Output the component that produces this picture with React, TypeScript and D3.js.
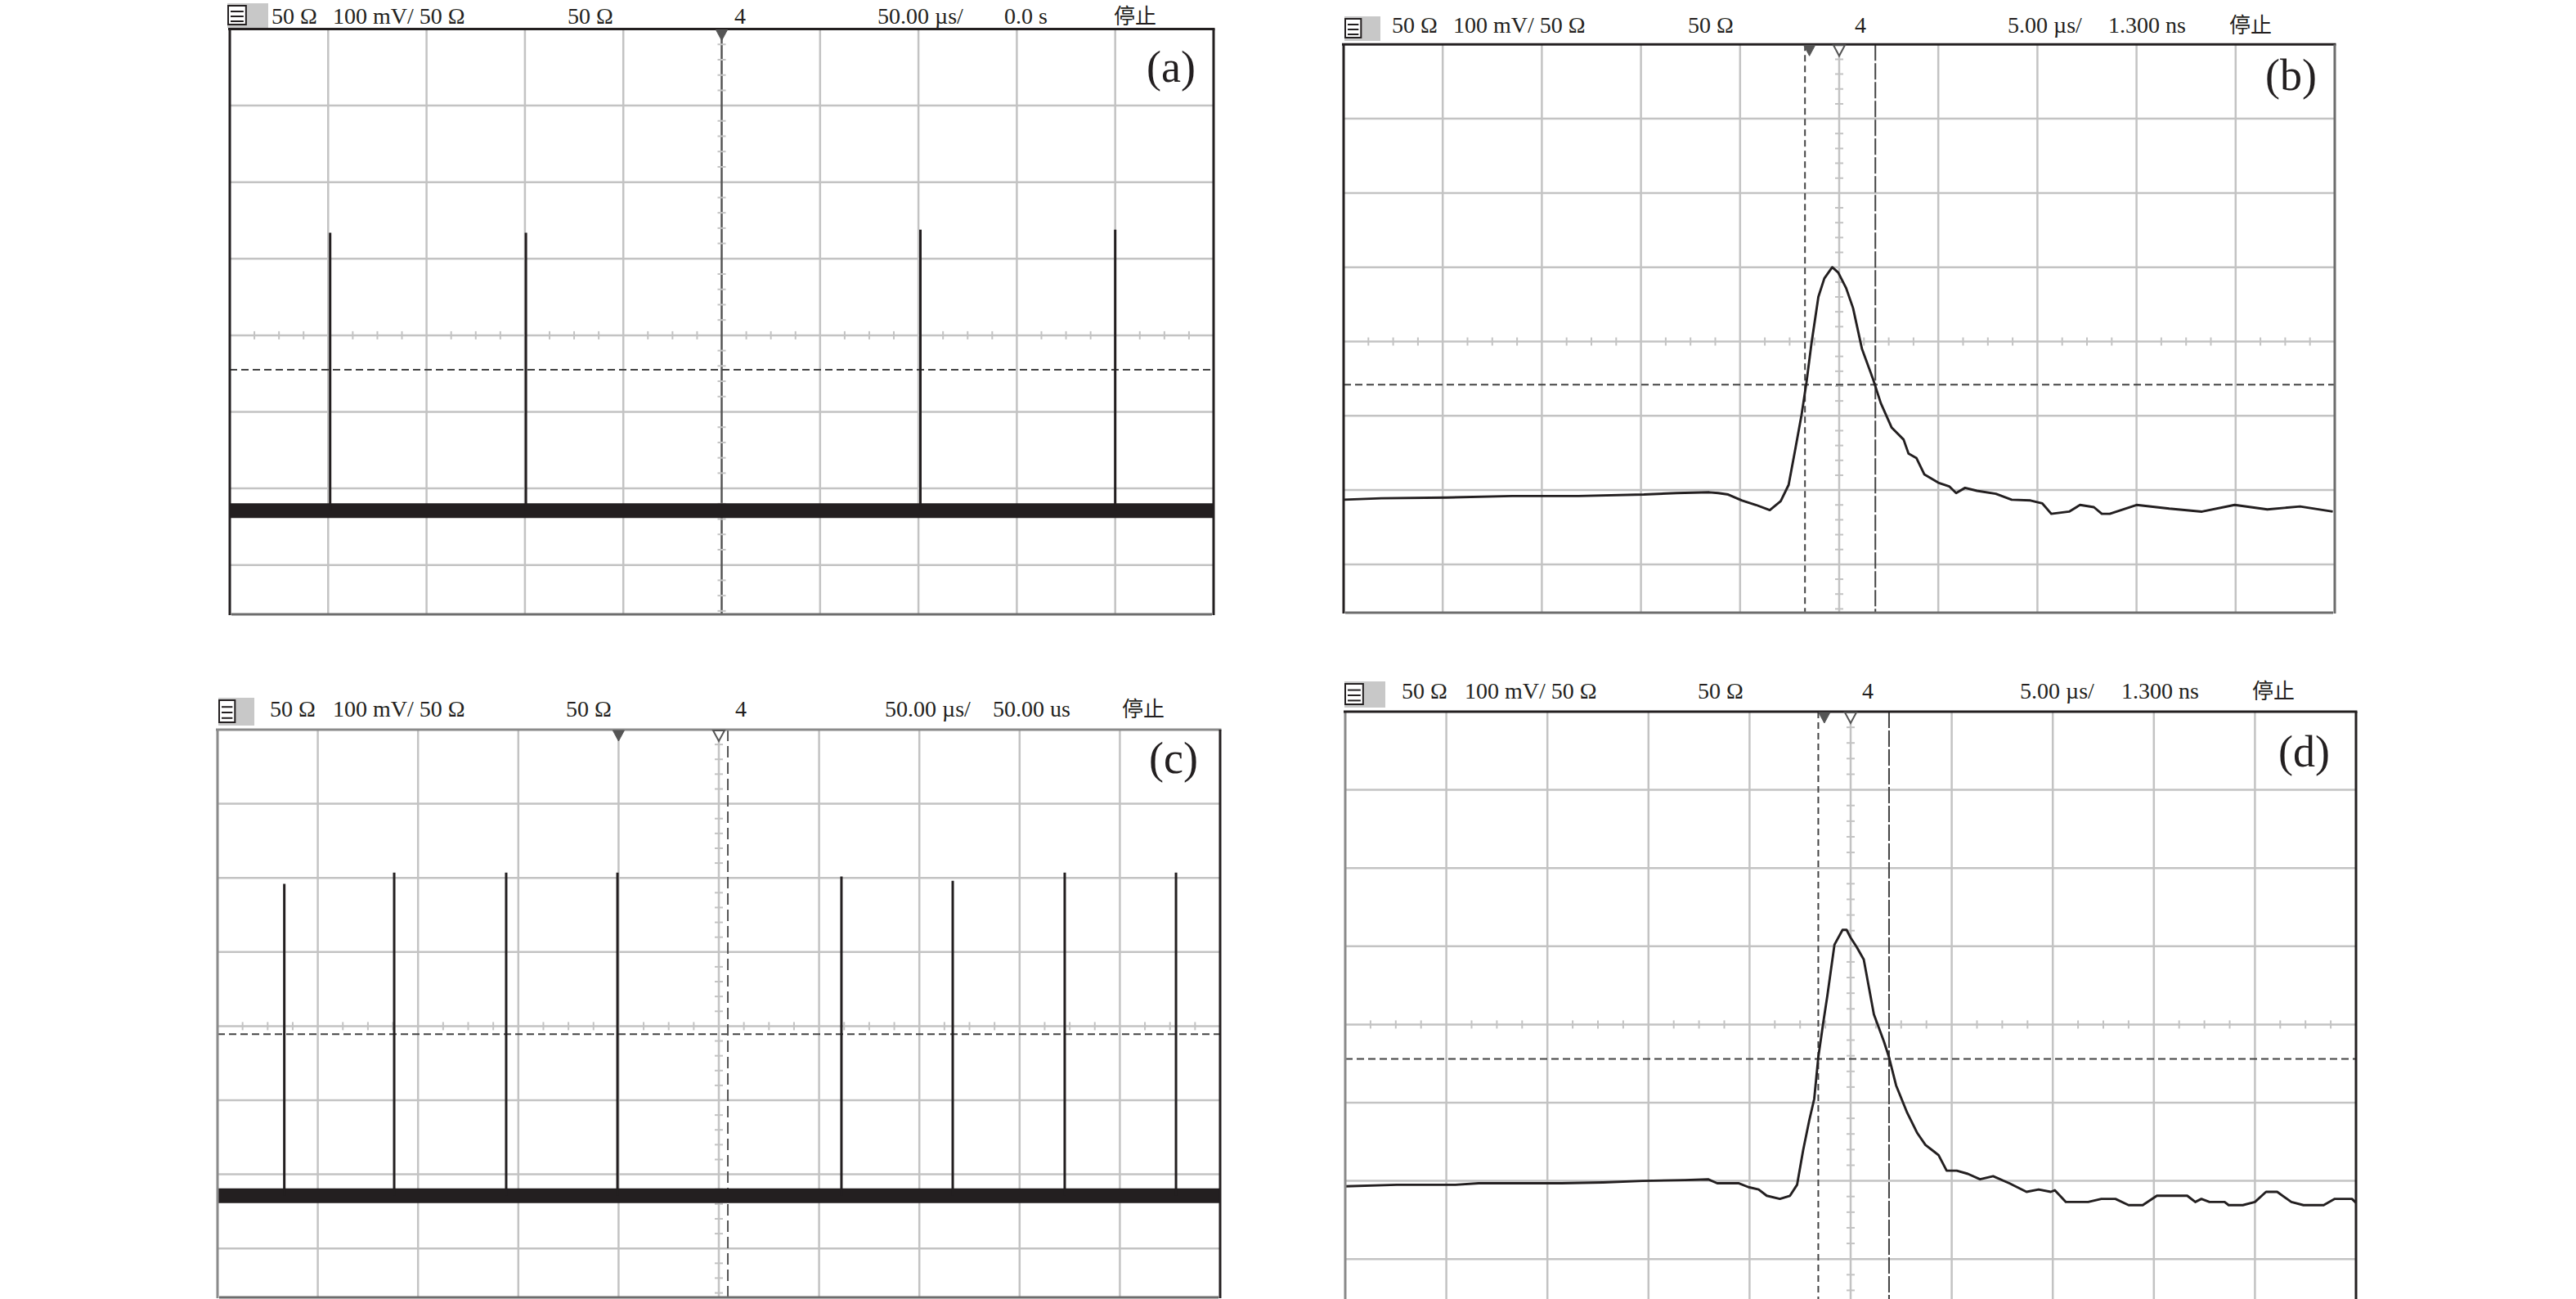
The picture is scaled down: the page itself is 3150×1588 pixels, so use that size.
import React from "react";
import * as d3 from "d3";

// ---------------- Data (oscilloscope units: time 0..10 div, voltage -4..+4 div) ----------------
const headerA = ["50 Ω", "100 mV/ 50 Ω", "50 Ω", "4", "50.00 µs/", "0.0 s", "停止"];
const headerB = ["50 Ω", "100 mV/ 50 Ω", "50 Ω", "4", "5.00 µs/", "1.300 ns", "停止"];
const headerC = ["50 Ω", "100 mV/ 50 Ω", "50 Ω", "4", "50.00 µs/", "50.00 us", "停止"];
const headerD = ["50 Ω", "100 mV/ 50 Ω", "50 Ω", "4", "5.00 µs/", "1.300 ns", "停止"];
const panelLabels = ["(a)", "(b)", "(c)", "(d)"];

// (a) pulse train, 50 µs/div
const spikeTimesA = [1.02, 3.01, 7.02, 9.0];
const spikePeaksA = [1.34, 1.34, 1.38, 1.38];
const baselineA = -2.29;
const levelA = -0.45;

// (c) pulse train, 50 µs/div
const spikeTimesC = [0.666, 1.762, 2.879, 3.989, 6.223, 7.333, 8.45, 9.56];
const spikePeaksC = [1.92, 2.07, 2.07, 2.07, 2.02, 1.96, 2.07, 2.07];
const baselineC = -2.29;
const levelC = -0.11;

// (b) single pulse, 5 µs/div
const pulseTimeB = [0.0, 0.38, 1.04, 1.7, 2.37, 3.03, 3.36, 3.69, 3.78, 3.88, 4.02, 4.16, 4.3, 4.41, 4.49, 4.56, 4.62, 4.67, 4.72, 4.79, 4.85, 4.93, 4.99, 5.07, 5.14, 5.23, 5.34, 5.42, 5.53, 5.65, 5.7, 5.78, 5.86, 6.0, 6.11, 6.18, 6.27, 6.39, 6.58, 6.74, 6.93, 7.05, 7.14, 7.32, 7.43, 7.57, 7.65, 7.73, 8.0, 8.33, 8.66, 8.99, 9.32, 9.65, 9.98];
const pulseVoltB = [-2.13, -2.11, -2.1, -2.08, -2.08, -2.06, -2.04, -2.03, -2.04, -2.06, -2.14, -2.2, -2.27, -2.15, -1.93, -1.43, -0.99, -0.55, -0.03, 0.6, 0.85, 1.0, 0.93, 0.72, 0.45, -0.1, -0.5, -0.83, -1.16, -1.32, -1.51, -1.57, -1.79, -1.9, -1.95, -2.04, -1.97, -2.01, -2.05, -2.13, -2.14, -2.18, -2.32, -2.29, -2.2, -2.23, -2.32, -2.32, -2.2, -2.25, -2.29, -2.2, -2.26, -2.22, -2.29];
const cursorsB = [4.655, 5.365];
const levelB = -0.58;

// (d) single pulse, 5 µs/div
const pulseTimeD = [0.0, 0.51, 1.09, 1.32, 2.14, 2.55, 2.94, 3.36, 3.59, 3.68, 3.89, 3.99, 4.09, 4.17, 4.3, 4.4, 4.47, 4.53, 4.59, 4.64, 4.68, 4.73, 4.77, 4.84, 4.92, 4.96, 5.0, 5.06, 5.13, 5.23, 5.33, 5.38, 5.45, 5.56, 5.66, 5.74, 5.83, 5.87, 5.95, 6.05, 6.16, 6.28, 6.41, 6.57, 6.74, 6.86, 6.98, 7.02, 7.13, 7.35, 7.48, 7.62, 7.75, 7.89, 8.03, 8.33, 8.41, 8.47, 8.55, 8.7, 8.74, 8.88, 9.0, 9.11, 9.22, 9.36, 9.48, 9.68, 9.79, 9.96, 10.0];
const pulseVoltD = [-2.07, -2.05, -2.05, -2.03, -2.03, -2.02, -2.0, -1.99, -1.98, -2.03, -2.03, -2.08, -2.11, -2.19, -2.23, -2.19, -2.05, -1.61, -1.23, -0.95, -0.42, 0.03, 0.37, 1.02, 1.21, 1.21, 1.11, 0.99, 0.83, 0.13, -0.22, -0.42, -0.78, -1.13, -1.39, -1.54, -1.63, -1.67, -1.87, -1.87, -1.91, -1.98, -1.94, -2.03, -2.14, -2.11, -2.14, -2.12, -2.27, -2.27, -2.23, -2.23, -2.31, -2.31, -2.19, -2.19, -2.27, -2.23, -2.27, -2.27, -2.31, -2.31, -2.27, -2.14, -2.14, -2.27, -2.31, -2.31, -2.23, -2.23, -2.28];
const cursorsD = [4.68, 5.38];
const levelD = -0.44;

// ---------------- Layout ----------------
type Layout = {
  left: number; top: number; divW: number; divH: number; bottom: number;
  headerX: number[]; headerY: number;
  icon: { x: number; y: number; w: number; h: number };
  label: { x: number; y: number };
  filled: number | null; hollow: number | null;
  leftColor: string; topColor: string; rightColor: string; bottomColor: string | null;
  centerColor: string;
};

const layoutA: Layout = {
  left: 281, top: 35.5, divW: 120.3, divH: 93.6, bottom: 751,
  headerX: [332, 407, 694, 898, 1073, 1228, 1362], headerY: 29,
  icon: { x: 276, y: 4, w: 52, h: 30 }, label: { x: 1462, y: 100 },
  filled: 5.0, hollow: null,
  leftColor: "#231f20", topColor: "#231f20", rightColor: "#231f20", bottomColor: "#6d6d6d",
  centerColor: "#555",
};
const layoutB: Layout = {
  left: 1643, top: 54.3, divW: 121.2, divH: 90.8, bottom: 749,
  headerX: [1702, 1777, 2064, 2268, 2455, 2578, 2726], headerY: 40,
  icon: { x: 1642, y: 20, w: 46, h: 30 }, label: { x: 2833, y: 110 },
  filled: 4.7, hollow: 5.0,
  leftColor: "#231f20", topColor: "#231f20", rightColor: "#6d6d6d", bottomColor: "#6d6d6d",
  centerColor: "#c3c3c3",
};
const layoutC: Layout = {
  left: 266, top: 892, divW: 122.6, divH: 90.6, bottom: 1586,
  headerX: [330, 407, 692, 899, 1082, 1214, 1372], headerY: 876,
  icon: { x: 265, y: 853, w: 46, h: 34 }, label: { x: 1465, y: 945 },
  filled: 4.0, hollow: 5.0,
  leftColor: "#8a8a8a", topColor: "#8a8a8a", rightColor: "#231f20", bottomColor: "#6d6d6d",
  centerColor: "#c3c3c3",
};
const layoutD: Layout = {
  left: 1645, top: 870, divW: 123.6, divH: 95.6, bottom: 1588,
  headerX: [1714, 1791, 2076, 2277, 2470, 2594, 2754], headerY: 854,
  icon: { x: 1642, y: 833, w: 52, h: 32 }, label: { x: 2849, y: 937 },
  filled: 4.74, hollow: 5.0,
  leftColor: "#8a8a8a", topColor: "#231f20", rightColor: "#231f20", bottomColor: null,
  centerColor: "#c3c3c3",
};

const GRID = "#c3c3c3";
const INK = "#231f20";
const SERIF = "'Liberation Serif', 'Times New Roman', serif";
const CJK = "'Noto Sans CJK SC', sans-serif";

type PanelProps = {
  id: string;
  L: Layout;
  header: string[];
  label: string;
  level: number;
  spikes?: { times: number[]; peaks: number[]; baseline: number };
  trace?: { t: number[]; v: number[] };
  cursors?: number[];
  extraDashX?: number;
};

function Panel({ id, L, header, label, level, spikes, trace, cursors, extraDashX }: PanelProps) {
  const x = d3.scaleLinear().domain([0, 10]).range([L.left, L.left + 10 * L.divW]);
  const y = d3.scaleLinear().domain([4, -4]).range([L.top, L.top + 8 * L.divH]);
  const right = x(10);
  const bottom = L.bottom;
  const line = d3.line<[number, number]>().x((d) => x(d[0])).y((d) => y(d[1]));

  const vGrid = d3.range(1, 10).filter((i) => i !== 5);
  const hGrid = d3.range(1, 8).filter((i) => i !== 4);
  const hMinor = d3.range(0, 40).map((i) => i / 4).filter((v) => v % 1 !== 0);
  const vMinor = d3.range(-20, 20).map((i) => i / 5).filter((v) => Math.abs(v - Math.round(v)) > 1e-6);

  const tri = (t: number, filled: boolean) => {
    const cx = x(t);
    const ty = L.top + 1;
    return (
      <path
        key={`tri-${t}-${filled}`}
        d={`M${cx - 7},${ty} L${cx + 7},${ty} L${cx},${ty + 13} Z`}
        fill={filled ? "#555" : "#fff"}
        stroke="#555"
        strokeWidth={filled ? 1 : 2}
      />
    );
  };

  return (
    <g>
      <defs>
        <clipPath id={`clip-${id}`}>
          <rect x={L.left} y={L.top} width={right - L.left} height={bottom - L.top} />
        </clipPath>
      </defs>
      {/* header */}
      <g>
        <rect x={L.icon.x + 2} y={L.icon.y} width={L.icon.w - 2} height={L.icon.h} fill="#c8c8c8" />
        <rect x={L.icon.x + 3} y={L.icon.y + 3} width={L.icon.w * 0.42} height={L.icon.h - 7} fill="#fff" stroke={INK} strokeWidth={2} />
        {[0.3, 0.5, 0.7].map((f) => (
          <line key={f} x1={L.icon.x + 6} x2={L.icon.x + L.icon.w * 0.42} y1={L.icon.y + 1 + L.icon.h * f} y2={L.icon.y + 1 + L.icon.h * f} stroke={INK} strokeWidth={2} />
        ))}
        {header.map((s, i) => (
          <text key={i} x={L.headerX[i]} y={L.headerY} fontFamily={s === "停止" ? CJK : SERIF} fontSize={s === "停止" ? 26 : 28} fill={INK}>
            {s}
          </text>
        ))}
      </g>
      <g clipPath={`url(#clip-${id})`}>
        {/* grid */}
        {vGrid.map((i) => (
          <line key={`vg${i}`} x1={x(i)} x2={x(i)} y1={L.top} y2={bottom} stroke={GRID} strokeWidth={2.5} />
        ))}
        {hGrid.map((i) => (
          <line key={`hg${i}`} x1={L.left} x2={right} y1={y(4 - i)} y2={y(4 - i)} stroke={GRID} strokeWidth={2.5} />
        ))}
        {/* center axes with minor ticks */}
        <line x1={L.left} x2={right} y1={y(0)} y2={y(0)} stroke={GRID} strokeWidth={2.5} />
        {hMinor.map((t) => (
          <line key={`hm${t}`} x1={x(t)} x2={x(t)} y1={y(0) - 5} y2={y(0) + 5} stroke={GRID} strokeWidth={2} />
        ))}
        <line x1={x(5)} x2={x(5)} y1={L.top} y2={bottom} stroke={L.centerColor} strokeWidth={2.5} />
        {vMinor.map((v) => (
          <line key={`vm${v}`} x1={x(5) - 5} x2={x(5) + 5} y1={y(v)} y2={y(v)} stroke={GRID} strokeWidth={2} />
        ))}
        {/* trigger level */}
        <line x1={L.left} x2={right} y1={y(level)} y2={y(level)} stroke="#444" strokeWidth={2} strokeDasharray="9,5" />
        {extraDashX !== undefined && (
          <line x1={x(extraDashX)} x2={x(extraDashX)} y1={L.top} y2={bottom} stroke="#555" strokeWidth={2} strokeDasharray="14,6" />
        )}
        {cursors && (
          <>
            <line x1={x(cursors[0])} x2={x(cursors[0])} y1={L.top} y2={bottom} stroke="#444" strokeWidth={2} strokeDasharray="8,5" />
            <line x1={x(cursors[1])} x2={x(cursors[1])} y1={L.top} y2={bottom} stroke="#444" strokeWidth={2} strokeDasharray="20,3" />
          </>
        )}
        {/* signal */}
        {spikes && (
          <g>
            <path d={line([[0, spikes.baseline], [10, spikes.baseline]]) || ""} stroke={INK} strokeWidth={18} fill="none" />
            {spikes.times.map((t, i) => (
              <path key={`sp${i}`} d={line([[t, spikes.baseline], [t, spikes.peaks[i]]]) || ""} stroke={INK} strokeWidth={3} fill="none" />
            ))}
          </g>
        )}
        {trace && (
          <path
            d={line(trace.t.map((t, i) => [t, trace.v[i]] as [number, number])) || ""}
            stroke={INK}
            strokeWidth={2.9}
            fill="none"
            strokeLinejoin="round"
          />
        )}
      </g>
      {/* borders */}
      <line x1={L.left} x2={L.left} y1={L.top} y2={bottom + 1} stroke={L.leftColor} strokeWidth={3} />
      <line x1={L.left - 2} x2={right + 1.5} y1={L.top} y2={L.top} stroke={L.topColor} strokeWidth={3} />
      <line x1={right} x2={right} y1={L.top} y2={bottom + 1} stroke={L.rightColor} strokeWidth={3} />
      {L.bottomColor && (
        <line x1={L.left + 2} x2={right - 2} y1={bottom} y2={bottom} stroke={L.bottomColor} strokeWidth={3} />
      )}
      {/* trigger markers */}
      {L.filled !== null && tri(L.filled, true)}
      {L.hollow !== null && tri(L.hollow, false)}
      {/* panel label */}
      <text x={L.label.x} y={L.label.y} textAnchor="end" fontFamily={SERIF} fontSize={54} fill={INK}>
        {label}
      </text>
    </g>
  );
}

export default function App() {
  return (
    <svg
      width={3150}
      height={1588}
      viewBox="0 0 3150 1588"
      style={{ position: "absolute", left: 0, top: 0, background: "#fff" }}
    >
      <rect x={0} y={0} width={3150} height={1588} fill="#fff" />
      <Panel id="a" L={layoutA} header={headerA} label={panelLabels[0]} level={levelA}
        spikes={{ times: spikeTimesA, peaks: spikePeaksA, baseline: baselineA }} />
      <Panel id="b" L={layoutB} header={headerB} label={panelLabels[1]} level={levelB}
        trace={{ t: pulseTimeB, v: pulseVoltB }} cursors={cursorsB} />
      <Panel id="c" L={layoutC} header={headerC} label={panelLabels[2]} level={levelC}
        spikes={{ times: spikeTimesC, peaks: spikePeaksC, baseline: baselineC }} extraDashX={5.09} />
      <Panel id="d" L={layoutD} header={headerD} label={panelLabels[3]} level={levelD}
        trace={{ t: pulseTimeD, v: pulseVoltD }} cursors={cursorsD} />
    </svg>
  );
}
